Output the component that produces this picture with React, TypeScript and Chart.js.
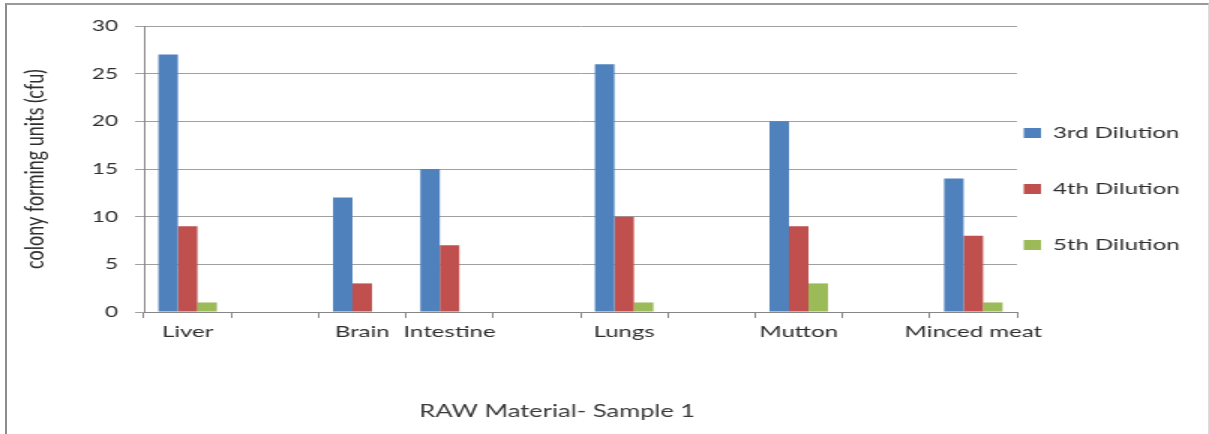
import React, { useEffect, useRef } from 'react';
import { Chart, registerables } from 'chart.js';

Chart.register(...registerables);

// ---- data ----
const categories = ['Liver', '', 'Brain', 'Intestine', '', 'Lungs', '', 'Mutton', '', 'Minced meat'];
const dilution3 = [27, null, 12, 15, null, 26, null, 20, null, 14];
const dilution4 = [9, null, 3, 7, null, 10, null, 9, null, 8];
const dilution5 = [1, null, 0, 0, null, 1, null, 3, null, 1];
const seriesNames = ['3rd Dilution', '4th Dilution', '5th Dilution'];
const seriesColors = ['#4F81BD', '#C0504D', '#9BBB59'];
const yTickValues = [0, 5, 10, 15, 20, 25, 30];
const yAxisTitle = 'colony forming units (cfu)';
const chartTitle = 'RAW Material- Sample 1';

// ---- layout (canvas drawn narrow, then stretched horizontally like the source image) ----
const STRETCH = 1.5;
const CANVAS_W = Math.round(1209 / STRETCH);
const CANVAS_H = 434;
const FONT = 'Lato, "Noto Sans", sans-serif';
const LEGEND_PAD = 40;
const LEGEND_BOX_X = 682.5;

const legendPlacer = {
  id: 'legendPlacer',
  afterLayout(chart: any) {
    const lg = chart.legend;
    if (!lg) return;
    lg.left = LEGEND_BOX_X - LEGEND_PAD;
    lg.right = chart.width;
    lg.width = lg.right - lg.left;
    lg.top = 0;
    lg.bottom = 378;
    lg.height = lg.bottom - lg.top;
  },
};

export default function App() {
  const ref = useRef<HTMLCanvasElement>(null);

  useEffect(() => {
    const datasets = [dilution3, dilution4, dilution5].map((d, i) => ({
      label: seriesNames[i],
      data: d,
      backgroundColor: seriesColors[i],
      borderWidth: 0,
      categoryPercentage: 0.67,
      barPercentage: 1.0,
    }));

    const chart = new Chart(ref.current as HTMLCanvasElement, {
      type: 'bar',
      data: { labels: categories, datasets },
      plugins: [legendPlacer],
      options: {
        animation: false,
        responsive: false,
        devicePixelRatio: 1,
        layout: { padding: { top: 26, left: 0, right: 63, bottom: 0 } },
        plugins: {
          tooltip: { enabled: false },
          legend: {
            display: true,
            position: 'right',
            align: 'center',
            maxWidth: 65,
            labels: {
              boxWidth: 11.5,
              boxHeight: 10,
              padding: LEGEND_PAD,
              color: '#2e2e2e',
              font: { family: FONT, size: 16 },
            },
          },
          title: {
            display: true,
            position: 'bottom',
            align: 'center',
            text: chartTitle,
            color: '#3a3a3a',
            font: { family: FONT, size: 17, weight: 'normal' },
            padding: { top: 39.8, bottom: 11.8 },
          },
        },
        scales: {
          x: {
            type: 'category',
            offset: true,
            afterFit: (scale: any) => {
              scale.height = 50;
            },
            grid: {
              display: true,
              offset: true,
              drawOnChartArea: false,
              drawTicks: true,
              tickLength: 6,
              color: '#868686',
            },
            border: { display: true, color: '#868686', width: 1 },
            ticks: {
              autoSkip: false,
              maxRotation: 0,
              minRotation: 0,
              padding: 4.4,
              color: '#2e2e2e',
              font: { family: FONT, size: 16 },
            },
          },
          y: {
            min: 0,
            max: 30,
            afterBuildTicks: (axis: any) => {
              axis.ticks = yTickValues.map((v) => ({ value: v }));
            },
            afterFit: (scale: any) => {
              scale.width = 96;
            },
            grid: {
              color: '#a0a0a0',
              drawTicks: true,
              tickLength: 6,
            },
            border: { display: true, color: '#868686', width: 1 },
            ticks: {
              padding: 11.3,
              color: '#2e2e2e',
              font: { family: FONT, size: 15 },
            },
            title: {
              display: true,
              text: yAxisTitle,
              color: '#2e2e2e',
              font: { family: FONT, size: 18 },
              padding: { top: 11.9, bottom: 0 },
            },
          },
        },
      } as any,
    });
    return () => chart.destroy();
  }, []);

  return (
    <div
      style={{
        position: 'absolute',
        left: 0,
        top: 0,
        width: 1209,
        height: 434,
        overflow: 'hidden',
        background: '#ffffff',
      }}
    >
      <div
        style={{
          position: 'absolute',
          left: 5,
          top: 3,
          width: 1204,
          height: 460,
          boxSizing: 'border-box',
          borderLeft: '2px solid #8c8c8c',
          borderTop: '2px solid #9a9a9a',
          borderRight: '1px solid #dcdcdc',
        }}
      />
      <div
        style={{
          position: 'absolute',
          left: 0,
          top: 0,
          width: CANVAS_W,
          height: CANVAS_H,
          transform: `scaleX(${STRETCH})`,
          transformOrigin: '0 0',
        }}
      >
        <canvas
          ref={ref}
          width={CANVAS_W}
          height={CANVAS_H}
          style={{ width: CANVAS_W, height: CANVAS_H, display: 'block' }}
        />
      </div>
    </div>
  );
}
